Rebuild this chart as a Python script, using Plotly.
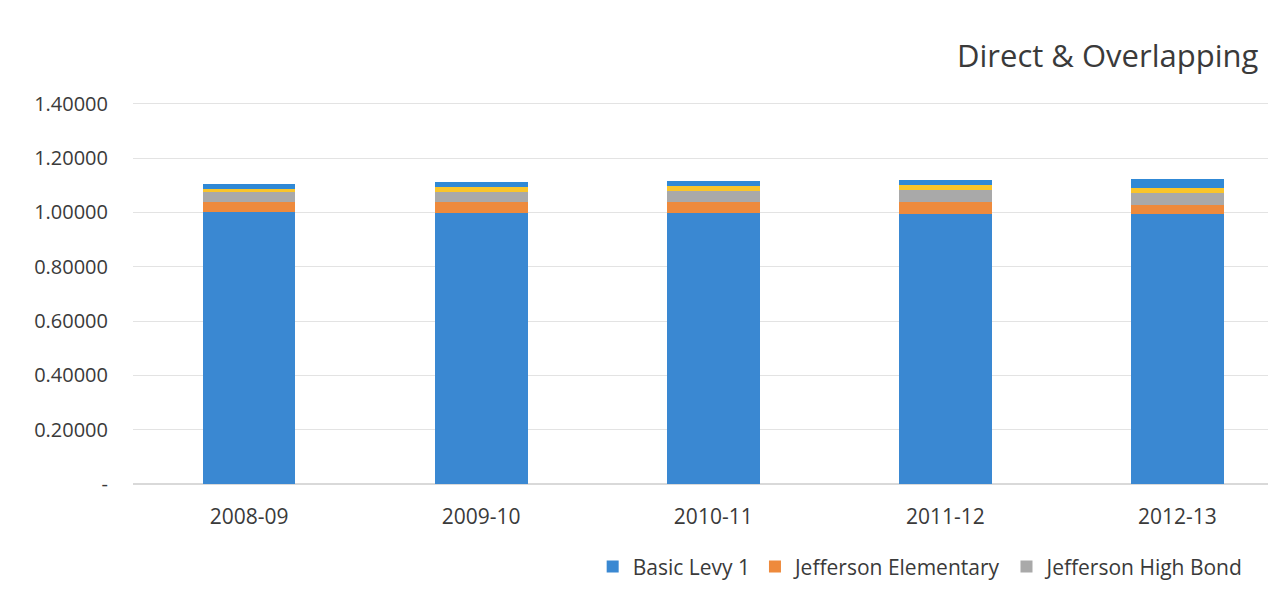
import plotly.graph_objects as go

years = ["2008-09", "2009-10", "2010-11", "2011-12", "2012-13"]
basic_levy_1 = [1.000, 0.998, 0.997, 0.995, 0.994]
jefferson_elementary = [0.037, 0.040, 0.043, 0.043, 0.034]
jefferson_high_bond = [0.037, 0.037, 0.040, 0.043, 0.045]
other_levy_a = [0.013, 0.018, 0.018, 0.018, 0.016]
other_levy_b = [0.016, 0.017, 0.018, 0.021, 0.033]

tick_vals = [0, 0.2, 0.4, 0.6, 0.8, 1.0, 1.2, 1.4]
tick_text = ["-", "0.20000", "0.40000", "0.60000", "0.80000", "1.00000", "1.20000", "1.40000"]

series = [
    ("Basic Levy 1", basic_levy_1, "#3a88d2", True),
    ("Jefferson Elementary", jefferson_elementary, "#ee8a3c", True),
    ("Jefferson High Bond", jefferson_high_bond, "#a9a9a9", True),
    ("Other Levy A", other_levy_a, "#f9c52b", False),
    ("Other Levy B", other_levy_b, "#3089d6", False),
]

fig = go.Figure()
for name, vals, color, show in series:
    fig.add_trace(go.Bar(x=years, y=vals, name=name, marker_color=color,
                         marker_line_width=0, showlegend=show))

font_family = "Open Sans, Noto Sans, sans-serif"
txt = "#3a3a3a"
fig.update_layout(
    barmode="stack",
    bargap=0.6,
    width=1275, height=602,
    margin=dict(l=133, r=7, t=101, b=118),
    paper_bgcolor="white", plot_bgcolor="white",
    font=dict(family=font_family, size=21, color=txt),
    xaxis=dict(type="category", range=[-0.5, 4.39], showgrid=False, showline=False, ticks="",
               ticklabelstandoff=18, tickfont=dict(size=21, color=txt)),
    yaxis=dict(range=[0, 1.41], tickvals=tick_vals, ticktext=tick_text,
               showgrid=True, gridcolor="#e3e3e3", gridwidth=1, zeroline=True,
               zerolinecolor="#d9d9d9", ticks="", ticklabelstandoff=24,
               tickfont=dict(size=20, color=txt)),
    legend=dict(orientation="h", x=0.405, xanchor="left", y=-0.216, yanchor="middle",
                font=dict(size=21, color=txt), traceorder="normal",
                itemwidth=30),
    annotations=[dict(text="Direct &amp; Overlapping", xref="paper", yref="paper",
                      x=0.993, y=1.12, xanchor="right", yanchor="middle",
                      showarrow=False, font=dict(size=31, color=txt))],
)

fig.write_html("out.html")
